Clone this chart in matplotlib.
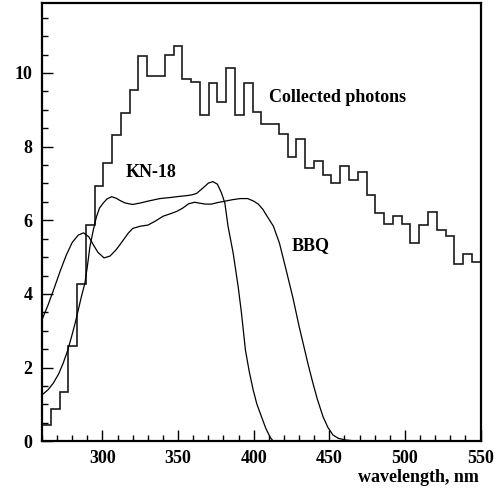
import numpy as np
import matplotlib
matplotlib.use("Agg")
import matplotlib.pyplot as plt
from matplotlib.ticker import MultipleLocator

plt.rcParams['font.family'] = ['Liberation Serif', 'DejaVu Serif']
plt.rcParams['font.weight'] = 'bold'

# histogram: 50 bins from 260 to 550 nm
bin_lo, bin_hi, n_bins = 260, 550, 50
photons = [0.44, 0.87, 1.34, 2.60, 4.27, 5.86, 6.92, 7.56, 8.32, 8.92,
           9.54, 10.45, 9.93, 9.93, 10.49, 10.73, 9.83, 9.75, 8.85, 9.72,
           9.21, 10.13, 8.87, 9.74, 8.95, 8.61, 8.61, 8.35, 7.72, 8.22,
           7.42, 7.61, 7.23, 7.01, 7.47, 7.09, 7.31, 6.68, 6.20, 5.90,
           6.11, 5.90, 5.38, 5.88, 6.23, 5.75, 5.57, 4.81, 5.09, 4.88]

# BBQ transmission curve
bbq_nm = [260, 264, 268, 272, 276, 280, 284, 287.5, 291, 294, 297, 301, 305,
          309, 313, 317, 320, 325, 330, 335, 340, 345, 349, 353, 357, 361,
          365, 368, 372, 376, 381, 386, 391, 396, 400, 403, 406, 409, 413,
          417, 421, 424, 426, 428, 430, 432.6, 436, 439, 442, 445.8, 449,
          452.4, 456, 461, 470, 550]
bbq_val = [3.30, 3.70, 4.15, 4.62, 5.05, 5.40, 5.60, 5.66, 5.55, 5.33, 5.13,
           4.98, 5.03, 5.20, 5.42, 5.65, 5.78, 5.84, 5.87, 5.98, 6.11, 6.18,
           6.24, 6.33, 6.45, 6.49, 6.46, 6.44, 6.44, 6.48, 6.52, 6.56, 6.59,
           6.59, 6.52, 6.44, 6.30, 6.10, 5.84, 5.38, 4.72, 4.22, 3.88, 3.50,
           3.12, 2.67, 2.08, 1.60, 1.15, 0.67, 0.38, 0.17, 0.08, 0.035, 0.0,
           0.0]

# KN-18 transmission curve
kn_nm = [260, 264, 267.5, 271, 274, 277, 279.6, 282, 284, 286, 288.4, 290,
         291.7, 294, 296.1, 298, 300.5, 303, 306, 309, 311.5, 315, 319.9,
         325, 330, 337.9, 345, 351, 355.6, 359, 362.2, 366.5, 370, 373,
         376, 378.7, 380.9, 383, 386.4, 389.7, 391.9, 394.5, 397, 399.6,
         402, 405.1, 408, 411, 413, 550]
kn_val = [1.26, 1.40, 1.58, 1.83, 2.12, 2.47, 2.85, 3.22, 3.57, 3.92, 4.30,
          4.75, 5.29, 5.75, 6.11, 6.33, 6.47, 6.58, 6.64, 6.60, 6.54, 6.47,
          6.43, 6.47, 6.52, 6.59, 6.62, 6.65, 6.67, 6.69, 6.73, 6.88, 7.01,
          7.05, 6.98, 6.74, 6.47, 5.84, 5.11, 4.20, 3.48, 2.48, 1.90, 1.40,
          1.02, 0.67, 0.35, 0.10, 0.0, 0.0]

fig = plt.figure(figsize=(4.97, 4.91), dpi=100)
ax = fig.add_axes([0.0845, 0.1012, 0.8825, 0.8927])

edges = np.linspace(bin_lo, bin_hi, n_bins + 1)
ax.stairs(photons, edges, baseline=None, color='#1a1a1a', lw=1.2)
ax.plot(bbq_nm, bbq_val, color='black', lw=0.9)
ax.plot(kn_nm, kn_val, color='black', lw=0.9)

ax.set_xlim(260, 550)
ax.set_ylim(0, 11.9)

ax.xaxis.set_major_locator(MultipleLocator(50))
ax.xaxis.set_minor_locator(MultipleLocator(10))
ax.yaxis.set_major_locator(MultipleLocator(2))
ax.yaxis.set_minor_locator(MultipleLocator(0.5))
ax.tick_params(which='both', direction='in', top=False, right=False,
               labelsize=13, width=1.0)
ax.tick_params(which='major', length=8)
ax.tick_params(which='minor', length=4)
ax.tick_params(axis='y', pad=7)
ax.tick_params(axis='x', pad=6)
for lbl in ax.get_xticklabels() + ax.get_yticklabels():
    lbl.set_fontweight('bold')
for sp in ax.spines.values():
    sp.set_linewidth(1.6)

ax.text(410, 9.34, 'Collected photons', fontsize=13, fontweight='bold',
        va='center', ha='left')
ax.text(315.5, 7.31, 'KN-18', fontsize=13, fontweight='bold',
        va='center', ha='left')
ax.text(424.9, 5.31, 'BBQ', fontsize=13, fontweight='bold',
        va='center', ha='left')
fig.text(0.964, 0.028, 'wavelength, nm', fontsize=13, fontweight='bold',
         va='center', ha='right')

fig.savefig('out.png', dpi=100)
